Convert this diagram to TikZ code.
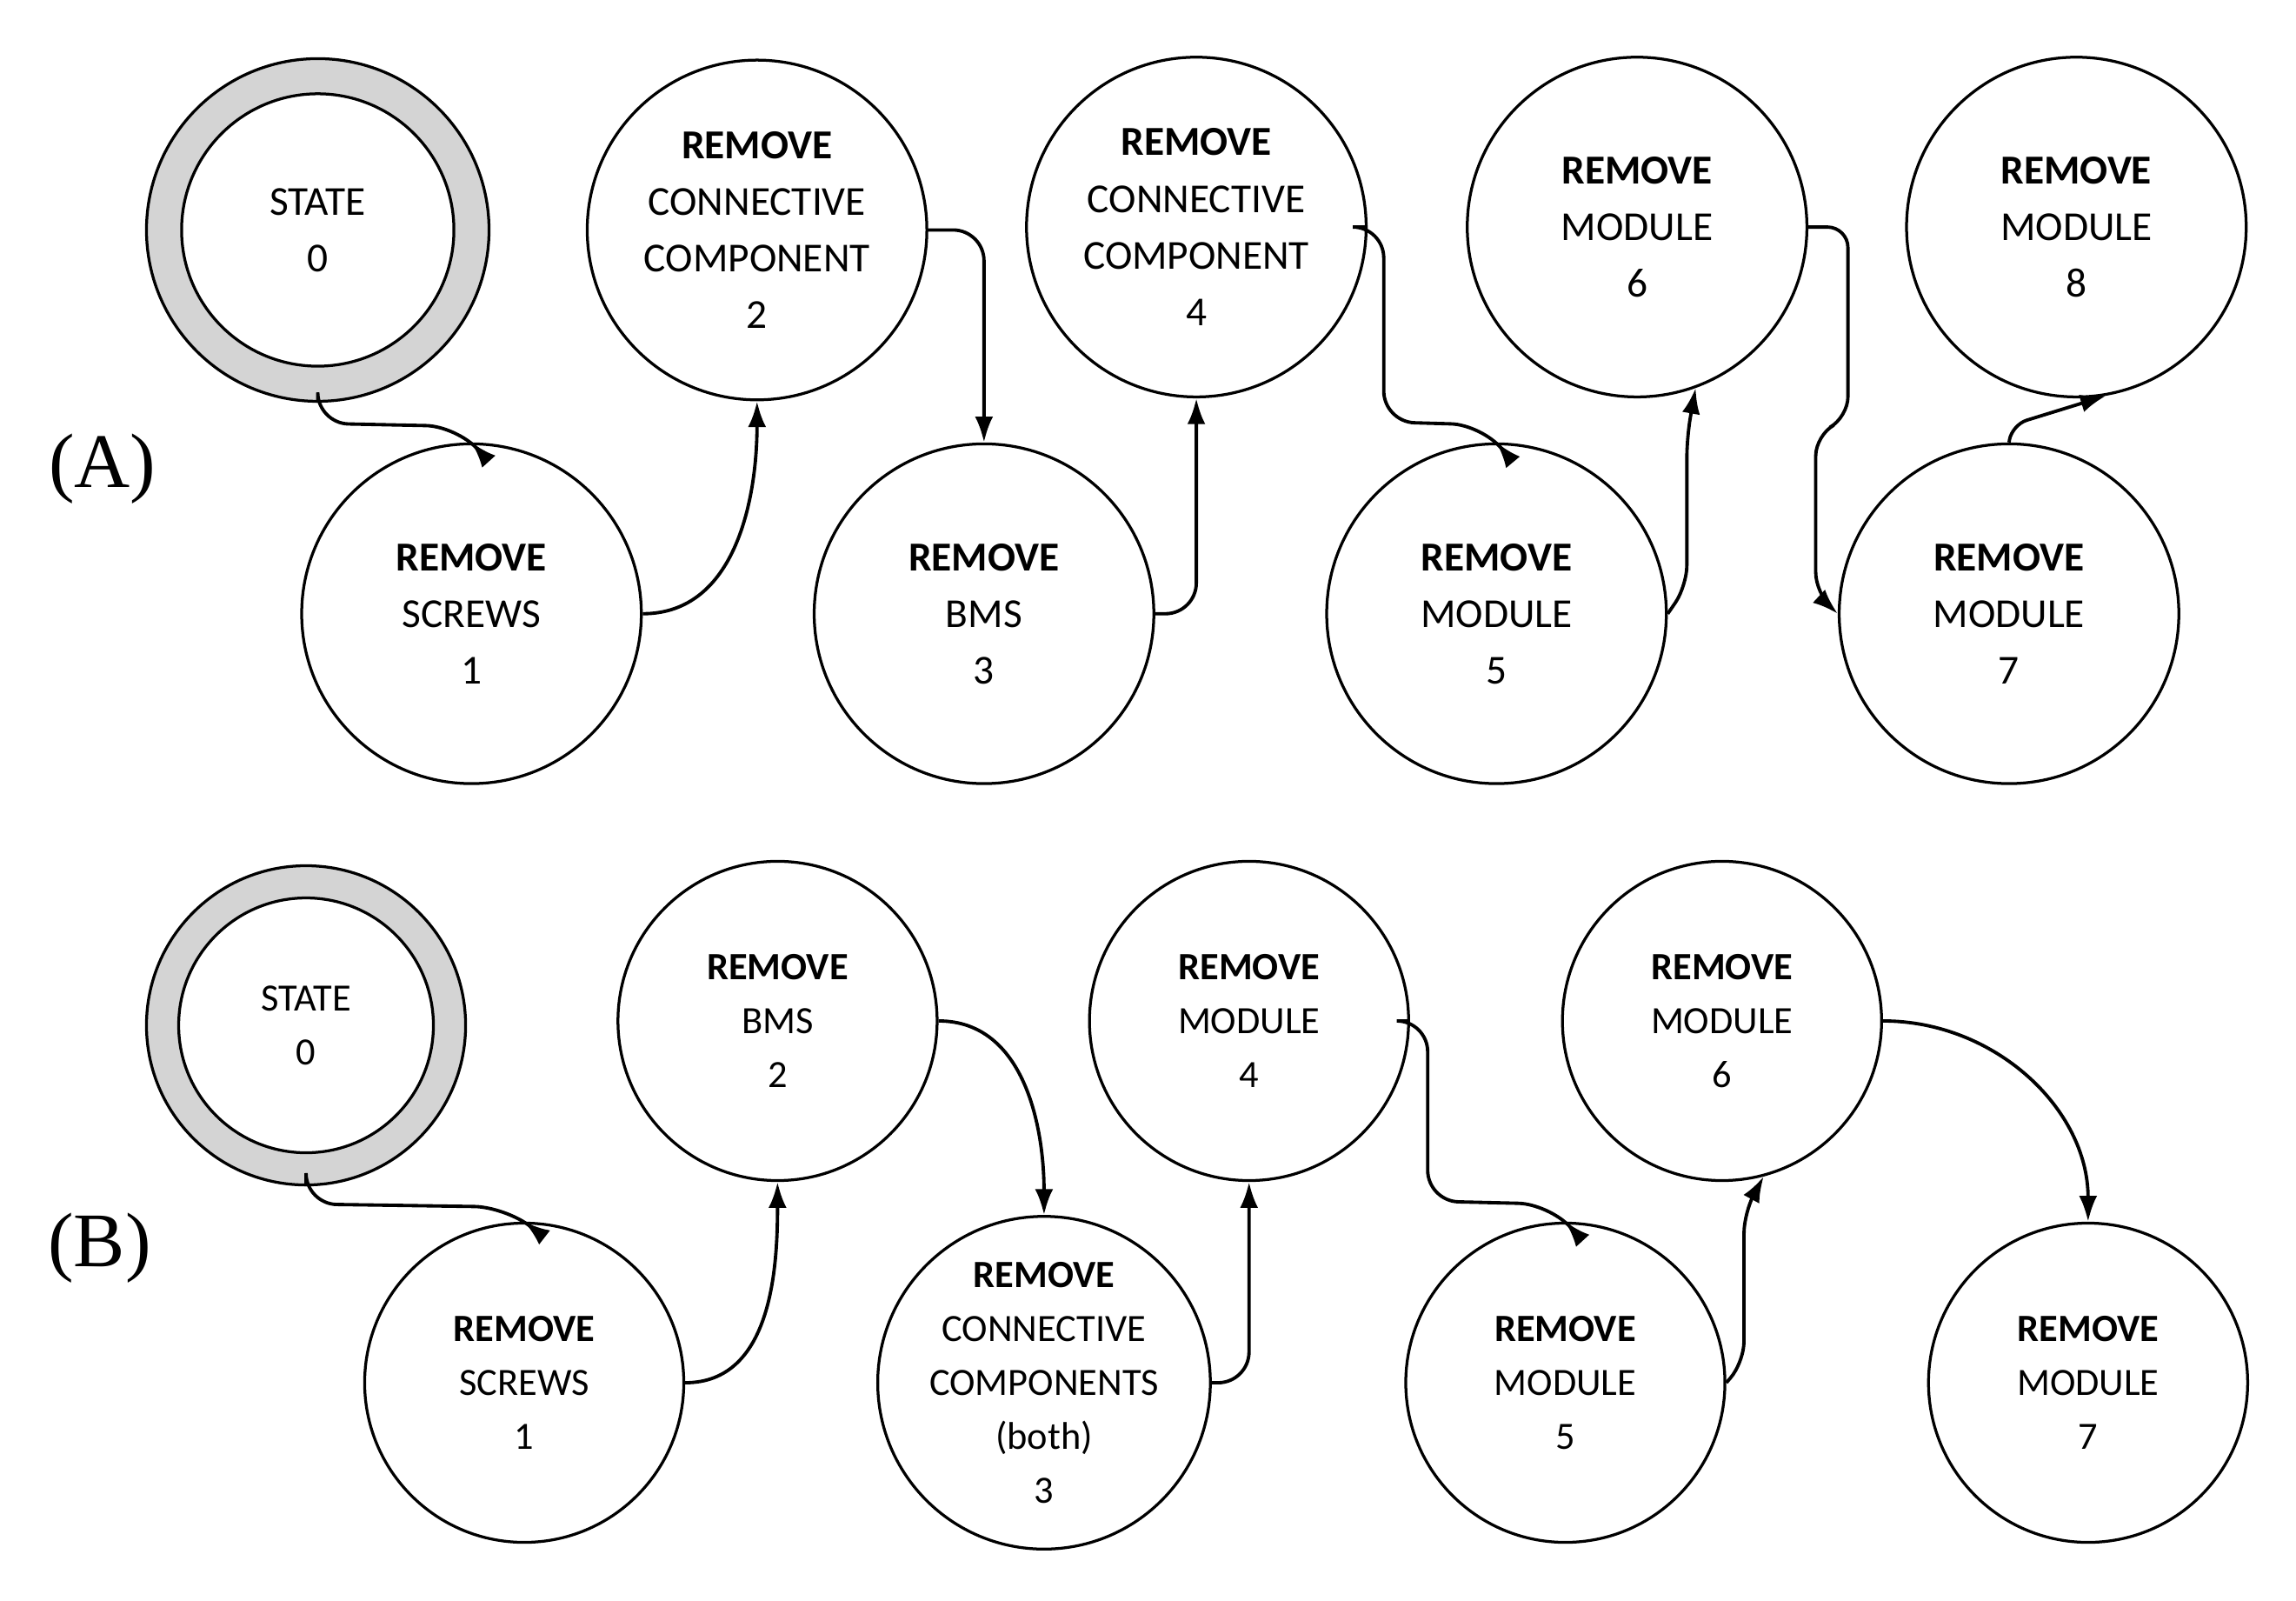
\documentclass[tikz,border=0pt]{standalone}
\usepackage{fontspec}
\setmainfont{Carlito}
\newfontfamily\lblfont{Liberation Serif}
\usetikzlibrary{arrows.meta}
\begin{document}
\begin{tikzpicture}[x=0.02cm,y=-0.02cm,
 st/.style={circle,draw,line width=1.1pt,minimum size=4.64cm,inner sep=0,align=center,font=\fontsize{16}{22}\selectfont},
 stb/.style={st,minimum size=4.36cm,font=\fontsize{15}{21}\selectfont},
 conn/.style={line width=1.3pt,-{Latex[length=10pt,width=7pt]},rounded corners=12pt},
 lbl/.style={font=\lblfont\fontsize{30}{30}\selectfont}]
\useasboundingbox (0,0) rectangle (1568,1093);
% (A)
\node[lbl] (LA) at (70,320) {(A)};
\node[circle,draw,line width=1.1pt,fill=black!17,minimum size=4.68cm] (a0o) at (217,157) {};
\node[st,fill=white,minimum size=3.72cm] (a0) at (217,157) {STATE\\0};
\node[st] (a1) at (322,419) {\textbf{REMOVE}\\SCREWS\\1};
\node[st] (a2) at (517,157) {\textbf{REMOVE}\\CONNECTIVE\\COMPONENT\\2};
\node[st] (a3) at (672,419) {\textbf{REMOVE}\\BMS\\3};
\node[st] (a4) at (817,155) {\textbf{REMOVE}\\CONNECTIVE\\COMPONENT\\4};
\node[st] (a5) at (1022,419) {\textbf{REMOVE}\\MODULE\\5};
\node[st] (a6) at (1118,155) {\textbf{REMOVE}\\MODULE\\6};
\node[st] (a7) at (1372,419) {\textbf{REMOVE}\\MODULE\\7};
\node[st] (a8) at (1418,155) {\textbf{REMOVE}\\MODULE\\8};
\coordinate (p1) at (217,289);
\coordinate (p2) at (312,291);
\draw[conn] (a0o.south) -- (p1) -- (p2) -- (a1.north);
\draw[conn] (a1.east) to[out=0,in=-90] (a2.south);
\draw[conn] (a2.east) -| (a3.north);
\draw[conn] (a3.east) -| (a4.south);
\coordinate (q1) at (945,155);
\coordinate (q2) at (945,288);
\coordinate (q3) at (1012,290);
\draw[conn] (a4.east) -- (q1) -- (q2) -- (q3) -- (a5.north);
\coordinate (r1) at (1152,400);
\coordinate (r2) at (1152,298);
\draw[conn,rounded corners=8pt] (a5.east) -- (r1) -- (r2) -- (a6.-70);
\coordinate (s1) at (1262,155);
\coordinate (s2) at (1262,285);
\coordinate (s3) at (1240,297);
\coordinate (s4) at (1240,405);
\draw[conn,rounded corners=8pt] (a6.east) -- (s1) -- (s2) -- (s3) -- (s4) -- (a7.west);
\coordinate (t1) at (1374,290);
\draw[conn,rounded corners=6pt] (a7.north) -- (t1) -- (a8.-80);
% (B)
\node[lbl] (LB) at (68,852) {(B)};
\node[circle,draw,line width=1.1pt,fill=black!17,minimum size=4.36cm] (b0o) at (209,700) {};
\node[stb,fill=white,minimum size=3.48cm] (b0) at (209,700) {STATE\\0};
\node[stb] (b1) at (358,944) {\textbf{REMOVE}\\SCREWS\\1};
\node[stb] (b2) at (531,697) {\textbf{REMOVE}\\BMS\\2};
\node[stb] (b3) at (713,944) {\textbf{REMOVE}\\CONNECTIVE\\COMPONENTS\\(both)\\3};
\node[stb] (b4) at (853,697) {\textbf{REMOVE}\\MODULE\\4};
\node[stb] (b5) at (1069,944) {\textbf{REMOVE}\\MODULE\\5};
\node[stb] (b6) at (1176,697) {\textbf{REMOVE}\\MODULE\\6};
\node[stb] (b7) at (1426,944) {\textbf{REMOVE}\\MODULE\\7};
\coordinate (u1) at (209,822);
\coordinate (u2) at (345,824);
\draw[conn] (b0o.south) -- (u1) -- (u2) -- (b1.north);
\draw[conn] (b1.east) to[out=0,in=-90] (b2.south);
\draw[conn] (b2.east) to[out=0,in=90] (b3.north);
\draw[conn] (b3.east) -| (b4.south);
\coordinate (v1) at (975,697);
\coordinate (v2) at (975,820);
\coordinate (v3) at (1058,822);
\draw[conn] (b4.east) -- (v1) -- (v2) -- (v3) -- (b5.north);
\coordinate (w1) at (1191,930);
\coordinate (w2) at (1191,828);
\draw[conn,rounded corners=8pt] (b5.east) -- (w1) -- (w2) -- (b6.-75);
\draw[conn] (b6.east) to[out=0,in=90] (b7.north);
\end{tikzpicture}
\end{document}
